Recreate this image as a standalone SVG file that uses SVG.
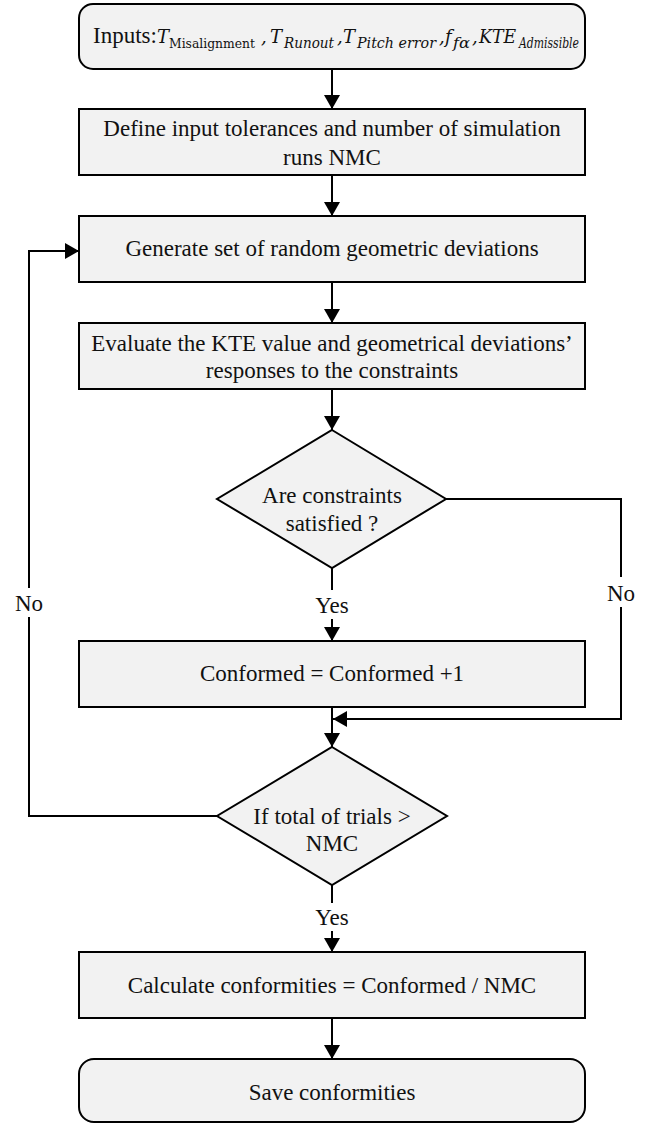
<svg xmlns="http://www.w3.org/2000/svg" width="649" height="1124" viewBox="0 0 649 1124">
<style>
.box{fill:#f2f2f2;stroke:#000;stroke-width:2}
text{font-family:"Liberation Serif","Times New Roman",serif;font-size:23px;fill:#111}
.t{text-anchor:middle}
.m{font-family:"DejaVu Serif","Liberation Serif",serif;font-style:italic;font-size:18px}
.s{font-family:"DejaVu Serif","Liberation Serif",serif;font-size:13px}
.si{font-family:"DejaVu Serif","Liberation Serif",serif;font-style:italic;font-size:14px}
.ln{fill:none;stroke:#000;stroke-width:2}
</style>
<defs>
<marker id="ah" viewBox="0 0 14 16" refX="14" refY="8" markerWidth="14" markerHeight="16" markerUnits="userSpaceOnUse" orient="auto">
<path d="M0,0 L14,8 L0,16 Z" fill="#000"/>
</marker>
</defs>
<g id="connectors">
<line class="ln" x1="332" y1="69" x2="332" y2="109" marker-end="url(#ah)"/>
<line class="ln" x1="332" y1="175" x2="332" y2="216" marker-end="url(#ah)"/>
<line class="ln" x1="332" y1="282" x2="332" y2="323" marker-end="url(#ah)"/>
<line class="ln" x1="332" y1="389" x2="332" y2="430" marker-end="url(#ah)"/>
<line class="ln" x1="332" y1="568" x2="332" y2="590"/>
<line class="ln" x1="332" y1="619" x2="332" y2="641" marker-end="url(#ah)"/>
<text class="t" x="332" y="612.5">Yes</text>
<line class="ln" x1="332" y1="707" x2="332" y2="747" marker-end="url(#ah)"/>
<polyline class="ln" points="446,499 621,499 621,577"/>
<polyline class="ln" points="621,607 621,719 333,719" marker-end="url(#ah)"/>
<text class="t" x="621" y="600.5">No</text>
<polyline class="ln" points="217,816 29,816 29,617"/>
<polyline class="ln" points="29,588 29,251 79,251" marker-end="url(#ah)"/>
<text class="t" x="29" y="610.5">No</text>
<line class="ln" x1="332" y1="885" x2="332" y2="903"/>
<line class="ln" x1="332" y1="931" x2="332" y2="952" marker-end="url(#ah)"/>
<text class="t" x="332" y="924.5">Yes</text>
<line class="ln" x1="332" y1="1018" x2="332" y2="1059" marker-end="url(#ah)"/>
</g>
<g id="start">
<rect class="box" x="79" y="4" width="506" height="65" rx="14"/>
<text x="93" y="43">Inputs:<tspan class="m" x="157" y="43">T</tspan><tspan class="s" x="169" y="48" textLength="86" lengthAdjust="spacingAndGlyphs">Misalignment</tspan><tspan class="m" x="261" y="43">,</tspan><tspan class="m" x="270" y="43">T</tspan><tspan class="si" x="284" y="48" textLength="50" lengthAdjust="spacingAndGlyphs">Runout</tspan><tspan class="m" x="337" y="43">,</tspan><tspan class="m" x="343" y="43">T</tspan><tspan class="si" x="357" y="48" textLength="79" lengthAdjust="spacingAndGlyphs">Pitch error</tspan><tspan class="m" x="439" y="43">,</tspan><tspan class="m" x="445" y="43">f</tspan><tspan class="si" x="453" y="48" textLength="17" lengthAdjust="spacingAndGlyphs">fα</tspan><tspan class="m" x="472" y="43">,</tspan><tspan class="m" x="479" y="43" textLength="37" lengthAdjust="spacingAndGlyphs">KTE</tspan><tspan class="si" x="519" y="48" textLength="60" lengthAdjust="spacingAndGlyphs">Admissible</tspan></text>
</g>
<g id="define">
<rect class="box" x="79" y="109" width="506" height="66"/>
<text class="t" x="332" y="135.5">Define input tolerances and number of simulation</text>
<text class="t" x="332" y="164.5">runs NMC</text>
</g>
<g id="generate">
<rect class="box" x="79" y="216" width="506" height="66"/>
<text class="t" x="332" y="255.5">Generate set of random geometric deviations</text>
</g>
<g id="evaluate">
<rect class="box" x="79" y="323" width="506" height="66"/>
<text class="t" x="332" y="350.5">Evaluate the KTE value and geometrical deviations’</text>
<text class="t" x="332" y="377.5">responses to the constraints</text>
</g>
<g id="decision1">
<polygon class="box" points="332,430 446,499 332,568 217,499"/>
<text class="t" x="332" y="502.5">Are constraints</text>
<text class="t" x="332" y="530.5">satisfied ?</text>
</g>
<g id="conformed">
<rect class="box" x="79" y="641" width="506" height="66"/>
<text class="t" x="332" y="680.5">Conformed = Conformed +1</text>
</g>
<g id="decision2">
<polygon class="box" points="332,747 447,816 332,885 217,816"/>
<text class="t" x="332" y="824">If total of trials &gt;</text>
<text class="t" x="332" y="850.5">NMC</text>
</g>
<g id="calculate">
<rect class="box" x="79" y="952" width="506" height="66"/>
<text class="t" x="332" y="992.5">Calculate conformities = Conformed / NMC</text>
</g>
<g id="save">
<rect class="box" x="79" y="1059" width="506" height="63" rx="15"/>
<text class="t" x="332" y="1099.5">Save conformities</text>
</g>
</svg>
